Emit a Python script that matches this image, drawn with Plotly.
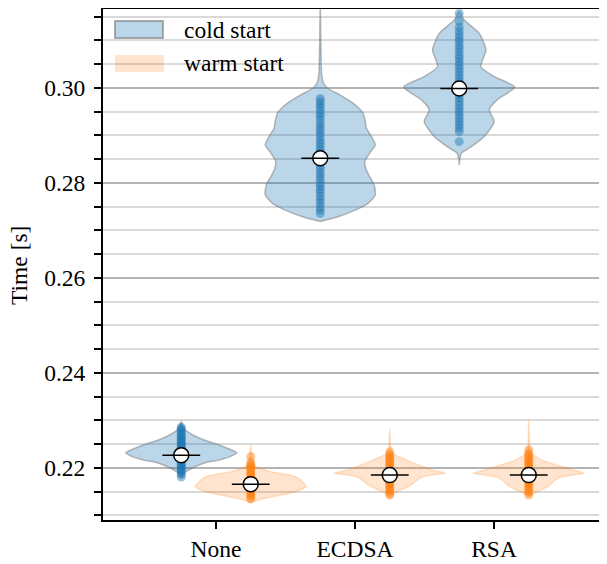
import plotly.graph_objects as go

# ---------------- data ----------------
categories = ["None", "ECDSA", "RSA"]
y_ticks = [0.22, 0.24, 0.26, 0.28, 0.30]
y_tick_labels = ["0.22", "0.24", "0.26", "0.28", "0.30"]
series_names = ["cold start", "warm start"]

# violin outlines: y levels (top -> bottom) and relative half-widths (0..1)
none_cold_y = [0.2298, 0.2290, 0.2283, 0.2279, 0.2270, 0.2259, 0.2252, 0.2242, 0.2232,
               0.2224, 0.2217, 0.2211, 0.2200, 0.2190, 0.2185, 0.2180]
none_cold_w = [0.0, 0.02, 0.04, 0.08, 0.20, 0.41, 0.59, 0.82, 1.0,
               0.88, 0.68, 0.43, 0.20, 0.06, 0.02, 0.0]

ecdsa_cold_y = [0.3180, 0.3100, 0.3040, 0.3024, 0.3010, 0.2999, 0.2985, 0.2968, 0.2947,
                0.2930, 0.2915, 0.2900, 0.2880, 0.2865, 0.2845, 0.2830, 0.2815, 0.2796,
                0.2775, 0.2757, 0.2743, 0.2729, 0.2719]
ecdsa_cold_w = [0.0, 0.01, 0.02, 0.03, 0.06, 0.14, 0.36, 0.59, 0.77,
                0.81, 0.83, 0.91, 0.99, 0.90, 0.80, 0.82, 0.88, 0.97,
                0.99, 0.86, 0.63, 0.32, 0.0]

rsa_cold_y = [0.3161, 0.3143, 0.3115, 0.3080, 0.3045, 0.3024, 0.3002, 0.2975, 0.2954,
              0.2929, 0.2898, 0.2876, 0.2863, 0.2850, 0.2838]
rsa_cold_w = [0.0, 0.09, 0.36, 0.48, 0.39, 0.63, 1.0, 0.68, 0.54,
              0.63, 0.45, 0.21, 0.04, 0.01, 0.0]

none_warm_y = [0.2248, 0.2235, 0.2215, 0.2203, 0.2192, 0.2182, 0.2171, 0.2161, 0.2150,
               0.2141, 0.2133, 0.2126]
none_warm_w = [0.0, 0.01, 0.03, 0.09, 0.36, 0.80, 0.93, 1.0, 0.80,
               0.45, 0.14, 0.0]

ecdsa_warm_y = [0.2282, 0.2240, 0.2231, 0.2217, 0.2203, 0.2196, 0.2189, 0.2185, 0.2181,
                0.2175, 0.2164, 0.2154, 0.2143]
ecdsa_warm_w = [0.0, 0.02, 0.05, 0.30, 0.59, 0.75, 1.0, 0.75, 0.58,
                0.50, 0.38, 0.20, 0.0]

rsa_warm_y = [0.2301, 0.2240, 0.2231, 0.2217, 0.2203, 0.2196, 0.2189, 0.2185, 0.2180,
              0.2172, 0.2164, 0.2154, 0.2147, 0.2141]
rsa_warm_w = [0.0, 0.02, 0.05, 0.23, 0.59, 0.80, 1.0, 0.78, 0.55,
              0.45, 0.38, 0.23, 0.10, 0.0]

# individual measurements (strip points)
none_cold_pts = [0.2286, 0.2283, 0.2279, 0.2276, 0.2272, 0.2269, 0.2266, 0.2263, 0.2260,
                 0.2257, 0.2254, 0.2251, 0.2248, 0.2245, 0.2242, 0.2239, 0.2236, 0.2233,
                 0.2230, 0.2227, 0.2224, 0.2221, 0.2218, 0.2215, 0.2212, 0.2209, 0.2206,
                 0.2203, 0.2200, 0.2197, 0.2194, 0.2190, 0.2186, 0.2181]
ecdsa_cold_pts = [0.2978, 0.2972, 0.2966, 0.2960, 0.2953, 0.2946, 0.2940, 0.2933, 0.2925,
                  0.2918, 0.2912, 0.2905, 0.2898, 0.2890, 0.2884, 0.2877, 0.2870, 0.2864,
                  0.2858, 0.2850, 0.2843, 0.2836, 0.2830, 0.2822, 0.2815, 0.2808, 0.2800,
                  0.2793, 0.2786, 0.2780, 0.2772, 0.2765, 0.2758, 0.2750, 0.2743, 0.2736]
rsa_cold_pts = [0.3157, 0.3140, 0.3128, 0.3120, 0.3112, 0.3105, 0.3098, 0.3090, 0.3083,
                0.3076, 0.3068, 0.3062, 0.3055, 0.3048, 0.3041, 0.3034, 0.3027, 0.3020,
                0.3013, 0.3006, 0.2999, 0.2992, 0.2985, 0.2978, 0.2971, 0.2964, 0.2957,
                0.2950, 0.2943, 0.2936, 0.2929, 0.2922, 0.2915, 0.2908, 0.2887]
none_warm_pts = [0.2224, 0.2212, 0.2207, 0.2203, 0.2199, 0.2195, 0.2191, 0.2187, 0.2183,
                 0.2179, 0.2175, 0.2171, 0.2167, 0.2163, 0.2159, 0.2155, 0.2151, 0.2147,
                 0.2143, 0.2139, 0.2135]
ecdsa_warm_pts = [0.2234, 0.2228, 0.2224, 0.2220, 0.2216, 0.2212, 0.2208, 0.2204, 0.2200,
                  0.2196, 0.2192, 0.2188, 0.2184, 0.2180, 0.2176, 0.2172, 0.2168, 0.2164,
                  0.2160, 0.2156, 0.2151, 0.2146, 0.2143]
rsa_warm_pts = [0.2238, 0.2231, 0.2226, 0.2222, 0.2218, 0.2214, 0.2210, 0.2206, 0.2202,
                0.2198, 0.2194, 0.2190, 0.2186, 0.2182, 0.2178, 0.2174, 0.2170, 0.2166,
                0.2162, 0.2158, 0.2153, 0.2148, 0.2143]

cold_means = [0.2227, 0.2852, 0.2999]
warm_means = [0.2166, 0.2185, 0.2185]

# ---------------- style ----------------
FONT = "Liberation Serif, Tinos, Times New Roman, Times, serif"
COLD_FILL = "rgba(31,119,180,0.30)"
COLD_LINE = "rgba(120,120,120,0.50)"
COLD_PT = "rgba(31,119,180,0.45)"
WARM_FILL = "rgba(255,127,14,0.20)"
WARM_LINE = "rgba(255,127,14,0.22)"
WARM_PT = "rgba(255,127,14,0.45)"
HALF = 0.4
OFF = 0.25
FS = 23.5

fig = go.Figure()


def violin(pos, ys, ws, fill, line):
    xs = [pos + w * HALF for w in ws] + [pos - w * HALF for w in ws[::-1]]
    yy = list(ys) + list(ys[::-1])
    fig.add_trace(go.Scatter(x=xs, y=yy, mode="lines", fill="toself", fillcolor=fill,
                             line=dict(color=line, width=1.5, shape="spline", smoothing=0.6),
                             hoverinfo="skip", showlegend=False))


def strip(pos, pts, color):
    fig.add_trace(go.Scatter(x=[pos] * len(pts), y=pts, mode="markers",
                             marker=dict(size=9, color=color, line=dict(width=0)),
                             showlegend=False))


cold_profiles = [(none_cold_y, none_cold_w), (ecdsa_cold_y, ecdsa_cold_w), (rsa_cold_y, rsa_cold_w)]
warm_profiles = [(none_warm_y, none_warm_w), (ecdsa_warm_y, ecdsa_warm_w), (rsa_warm_y, rsa_warm_w)]
cold_pts = [none_cold_pts, ecdsa_cold_pts, rsa_cold_pts]
warm_pts = [none_warm_pts, ecdsa_warm_pts, rsa_warm_pts]

for i in range(3):
    violin(i - OFF, *cold_profiles[i], COLD_FILL, COLD_LINE)
    strip(i - OFF, cold_pts[i], COLD_PT)
for i in range(3):
    violin(i + OFF, *warm_profiles[i], WARM_FILL, WARM_LINE)
    strip(i + OFF, warm_pts[i], WARM_PT)

mean_x = [i - OFF for i in range(3)] + [i + OFF for i in range(3)]
mean_y = cold_means + warm_means
fig.add_trace(go.Scatter(x=mean_x, y=mean_y, mode="markers",
                         marker=dict(symbol="circle", size=15, color="white",
                                     line=dict(color="black", width=1.5)),
                         showlegend=False))
fig.add_trace(go.Scatter(x=mean_x, y=mean_y, mode="markers",
                         marker=dict(symbol="line-ew", size=27,
                                     line=dict(color="black", width=1.5)),
                         showlegend=False))

# manual legend (no frame, transparent)
shapes = [
    dict(type="rect", xref="paper", yref="paper", x0=0.0238, x1=0.119, y0=0.9414, y1=0.9746,
         fillcolor=COLD_FILL, line=dict(color="rgba(120,120,120,0.6)", width=2)),
    dict(type="rect", xref="paper", yref="paper", x0=0.0238, x1=0.121, y0=0.875, y1=0.9082,
         fillcolor=WARM_FILL, line=dict(width=0)),
    dict(type="line", xref="paper", yref="paper", x0=0, x1=1, y0=1, y1=1,
         line=dict(color="black", width=2)),
]
annotations = [
    dict(text=series_names[0], xref="paper", yref="paper", x=0.1567, y=0.957,
         xanchor="left", yanchor="middle", showarrow=False,
         font=dict(family=FONT, size=FS, color="black")),
    dict(text=series_names[1], xref="paper", yref="paper", x=0.1567, y=0.8926,
         xanchor="left", yanchor="middle", showarrow=False,
         font=dict(family=FONT, size=FS, color="black")),
    dict(text="Time [s]", xref="paper", yref="paper", x=-0.1667, y=0.498,
         xanchor="center", yanchor="middle", textangle=-90, showarrow=False,
         font=dict(family=FONT, size=FS, color="black")),
]

fig.update_layout(
    width=599, height=556,
    margin=dict(l=95, r=0, t=0, b=44),
    plot_bgcolor="white", paper_bgcolor="white",
    font=dict(family=FONT, size=FS, color="black"),
    showlegend=False,
    shapes=shapes, annotations=annotations,
    xaxis=dict(range=[-0.813, 2.813], tickmode="array", tickvals=[0, 1, 2], ticktext=categories,
               ticks="outside", ticklen=7, tickwidth=1.5, tickcolor="black",
               showline=True, linewidth=2, linecolor="black", showgrid=False, zeroline=False,
               tickfont=dict(family=FONT, size=FS, color="black")),
    yaxis=dict(range=[0.20905, 0.31684], tickmode="array", tickvals=y_ticks, ticktext=y_tick_labels,
               ticks="outside", ticklen=7, tickwidth=1.5, tickcolor="black",
               showline=True, linewidth=2, linecolor="black", zeroline=False,
               ticklabelstandoff=4,
               showgrid=True, gridcolor="#b4b4b4", gridwidth=1.6,
               tickfont=dict(family=FONT, size=FS, color="black"),
               minor=dict(dtick=0.005, tick0=0.2, ticks="outside", ticklen=7, tickwidth=1.5,
                          tickcolor="black", showgrid=True, gridcolor="#d9d9d9", gridwidth=1.6)),
)

fig.write_html("out.html")
